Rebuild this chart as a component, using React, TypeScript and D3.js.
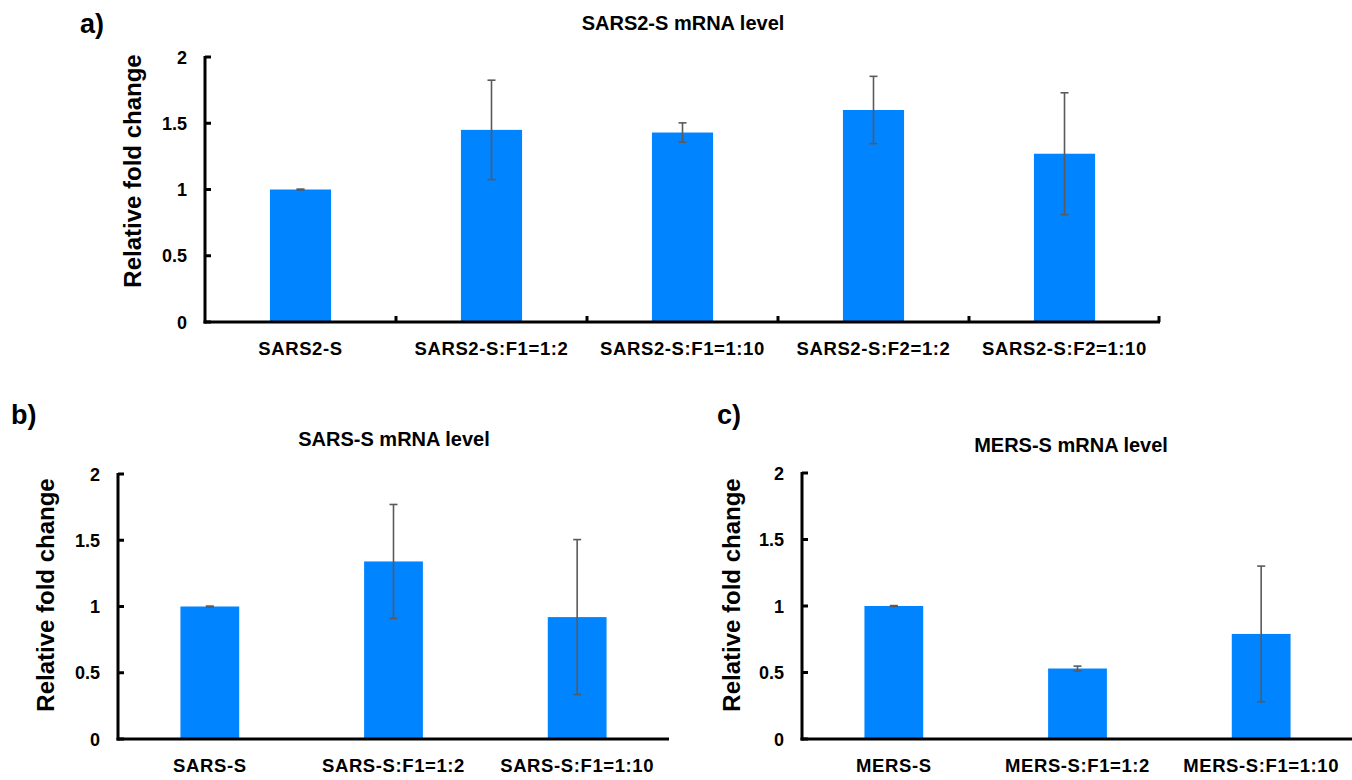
import * as d3 from "d3";
import React from "react";

// panel a
const catsA = ["SARS2-S", "SARS2-S:F1=1:2", "SARS2-S:F1=1:10", "SARS2-S:F2=1:2", "SARS2-S:F2=1:10"];
const meanA = [1.0, 1.45, 1.43, 1.6, 1.27];
const errA = [0.003, 0.375, 0.073, 0.254, 0.46];

// panel b
const catsB = ["SARS-S", "SARS-S:F1=1:2", "SARS-S:F1=1:10"];
const meanB = [1.0, 1.34, 0.92];
const errB = [0.003, 0.43, 0.585];

// panel c
const catsC = ["MERS-S", "MERS-S:F1=1:2", "MERS-S:F1=1:10"];
const meanC = [1.0, 0.53, 0.79];
const errC = [0.003, 0.018, 0.51];

const yTicks = [0, 0.5, 1, 1.5, 2];

const FONT = "'Liberation Sans', Arial, sans-serif";
const BAR = "#0084ff";
const ERR = "#5a5a5a";

type PanelProps = {
  letter: string;
  title: string;
  cats: string[];
  means: number[];
  errs: number[];
  left: number;
  right: number;
  top: number;
  bottom: number;
  letterX: number;
  letterY: number;
  titleX: number;
  titleY: number;
  ylabelX: number;
  ylabelY: number;
  catTicks: boolean;
};

function Panel(p: PanelProps) {
  const x = d3.scaleBand<string>().domain(p.cats).range([p.left, p.right]).padding(0);
  const y = d3.scaleLinear().domain([0, 2]).range([p.bottom, p.top]);
  const bw = x.bandwidth() * 0.32;

  return (
    <g fontFamily={FONT} fontWeight="bold" fill="#000">
      <text x={p.letterX} y={p.letterY} fontSize={27}>{p.letter}</text>
      <text x={p.titleX} y={p.titleY} fontSize={20} textAnchor="middle">{p.title}</text>
      <text
        transform={`translate(${p.ylabelX},${p.ylabelY}) rotate(-90)`}
        fontSize={24}
        textAnchor="middle"
      >
        Relative fold change
      </text>

      {p.cats.map((c, i) => {
        const cx = (x(c) as number) + x.bandwidth() / 2;
        const yTop = y(p.means[i] + p.errs[i]);
        const yBot = y(p.means[i] - p.errs[i]);
        return (
          <g key={c}>
            <rect x={cx - bw / 2} y={y(p.means[i])} width={bw} height={p.bottom - y(p.means[i])} fill={BAR} />
            <g stroke={ERR} strokeWidth={1.6}>
              <line x1={cx} x2={cx} y1={yTop} y2={yBot} />
              <line x1={cx - 4} x2={cx + 4} y1={yTop} y2={yTop} />
              <line x1={cx - 4} x2={cx + 4} y1={yBot} y2={yBot} />
            </g>
            <text x={cx} y={p.bottom + 33} fontSize={18.5} letterSpacing={0.6} textAnchor="middle">{c}</text>
          </g>
        );
      })}

      {/* axes */}
      <g stroke="#000" strokeWidth={3} fill="none">
        <line x1={p.left} x2={p.left} y1={p.top - 1} y2={p.bottom + 1.5} />
        <line x1={p.left - 1.5} x2={p.right} y1={p.bottom} y2={p.bottom} />
        {yTicks.map((t) => (
          <line key={t} x1={p.left} x2={p.left + 6} y1={y(t)} y2={y(t)} />
        ))}
        {p.catTicks &&
          p.cats.slice(1).concat([""]).map((c, i) => {
            const tx = i < p.cats.length - 1 ? (x(c) as number) : p.right - 1;
            return <line key={i} x1={tx} x2={tx} y1={p.bottom} y2={p.bottom - 6} />;
          })}
      </g>
      {yTicks.map((t) => (
        <text key={t} x={p.left - 18} y={y(t) + 6.5} fontSize={18} textAnchor="end">
          {t}
        </text>
      ))}
    </g>
  );
}

export default function App() {
  return (
    <div style={{ position: "absolute", left: 0, top: 0 }}>
      <svg width={1352} height={780} style={{ display: "block", background: "#fff" }}>
        <Panel
          letter="a)" title="SARS2-S mRNA level" cats={catsA} means={meanA} errs={errA}
          left={205} right={1160} top={57} bottom={322}
          letterX={80} letterY={33} titleX={683} titleY={30} ylabelX={141} ylabelY={171} catTicks={true}
        />
        <Panel
          letter="b)" title="SARS-S mRNA level" cats={catsB} means={meanB} errs={errB}
          left={118} right={669} top={474} bottom={739}
          letterX={11} letterY={424} titleX={394} titleY={446} ylabelX={54} ylabelY={595} catTicks={false}
        />
        <Panel
          letter="c)" title="MERS-S mRNA level" cats={catsC} means={meanC} errs={errC}
          left={802} right={1353} top={473} bottom={739}
          letterX={717} letterY={424} titleX={1071} titleY={452} ylabelX={740} ylabelY={595} catTicks={false}
        />
      </svg>
    </div>
  );
}
